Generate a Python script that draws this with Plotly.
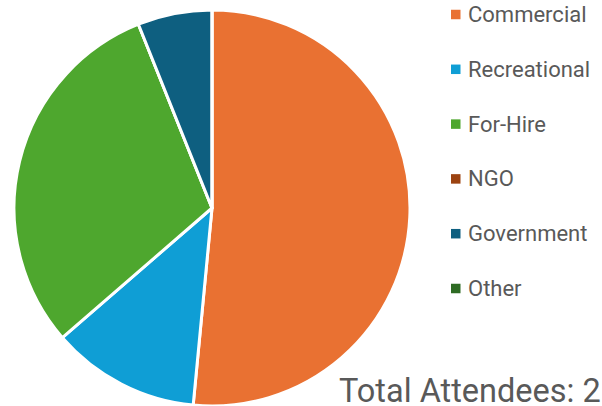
import plotly.graph_objects as go

categories = ["Commercial", "Recreational", "For-Hire", "NGO", "Government", "Other"]
values = [17, 4, 10, 0, 2, 0]
colors = ["#E97132", "#0F9ED5", "#4EA72E", "#9C4311", "#0E5F80", "#2E6B24"]
total_label = "Total Attendees: 2"

W, H = 602, 406


def px(x):
    return x / W


def py(y):
    return 1 - y / H


fig = go.Figure()
fig.add_trace(go.Pie(
    labels=categories,
    values=values,
    marker=dict(colors=colors, line=dict(color="white", width=3)),
    sort=False,
    direction="clockwise",
    rotation=0,
    textinfo="none",
    hoverinfo="label+value+percent",
    showlegend=False,
    domain=dict(x=[px(14), px(410)], y=[py(406), py(10)]),
))

# manual legend
leg_x = 451
leg_y0 = 14.5
leg_dy = 54.8
sq = 9.5
shapes = []
annotations = []
for i, (c, col) in enumerate(zip(categories, colors)):
    yc = leg_y0 + i * leg_dy
    shapes.append(dict(type="rect", xref="paper", yref="paper",
                       x0=px(leg_x), x1=px(leg_x + sq),
                       y0=py(yc + sq / 2), y1=py(yc - sq / 2),
                       fillcolor=col, line=dict(width=0)))
    annotations.append(dict(xref="paper", yref="paper", x=px(leg_x + 15), y=py(yc),
                            xanchor="left", yanchor="middle", text=c, showarrow=False,
                            font=dict(family="Roboto", size=22, color="#595959")))

annotations.append(dict(xref="paper", yref="paper", x=px(337), y=py(391),
                        xanchor="left", yanchor="middle", text=total_label, showarrow=False,
                        font=dict(family="Roboto", size=32.5, color="#595959")))

fig.update_layout(
    width=W, height=H,
    margin=dict(l=0, r=0, t=0, b=0),
    paper_bgcolor="white",
    plot_bgcolor="white",
    shapes=shapes,
    annotations=annotations,
)

fig.write_html("out.html", config={"displayModeBar": False},
               post_script="document.body.style.margin='0';")
